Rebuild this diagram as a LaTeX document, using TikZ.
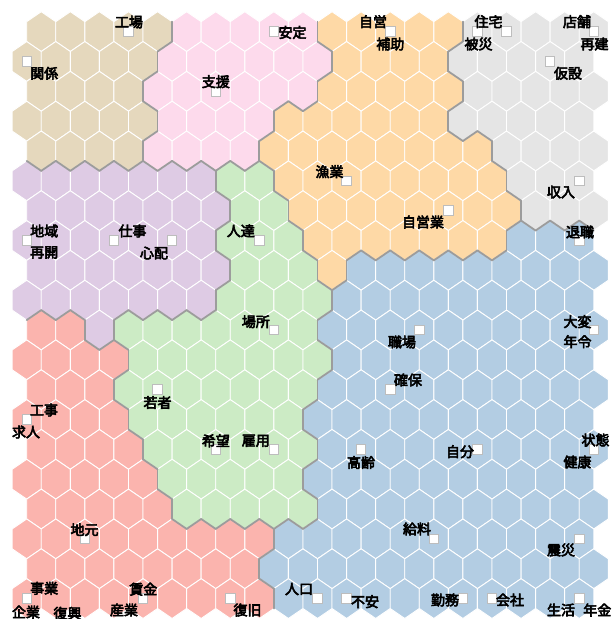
\documentclass[tikz,border=0pt]{standalone}
\usepackage{fontspec}
\newfontfamily\jpfont[FakeBold=4]{Noto Sans CJK JP}
\definecolor{cT}{HTML}{E5D8BD}
\definecolor{cP}{HTML}{FDDAEC}
\definecolor{cO}{HTML}{FED9A6}
\definecolor{cG}{HTML}{E5E5E5}
\definecolor{cU}{HTML}{DECBE4}
\definecolor{cN}{HTML}{CCEBC5}
\definecolor{cB}{HTML}{B3CDE3}
\definecolor{cR}{HTML}{FBB4AE}
\definecolor{bordergray}{HTML}{9C9C9C}
\definecolor{markgray}{HTML}{BDBDBD}
\newcommand\defhexrow[2]{\expandafter\def\csname hexrow#1\endcsname{#2}}
\defhexrow{0}{T,T,T,T,T,P,P,P,P,P,O,O,O,O,O,G,G,G,G,G}
\defhexrow{1}{T,T,T,T,T,P,P,P,P,P,P,O,O,O,O,G,G,G,G,G}
\defhexrow{2}{T,T,T,T,P,P,P,P,P,P,O,O,O,O,O,G,G,G,G,G}
\defhexrow{3}{T,T,T,T,T,P,P,P,P,O,O,O,O,O,O,G,G,G,G,G}
\defhexrow{4}{T,T,T,T,P,P,P,P,O,O,O,O,O,O,O,O,G,G,G,G}
\defhexrow{5}{U,U,U,U,U,U,U,N,N,O,O,O,O,O,O,O,O,G,G,G}
\defhexrow{6}{U,U,U,U,U,U,U,N,N,O,O,O,O,O,O,O,O,G,G,G}
\defhexrow{7}{U,U,U,U,U,U,U,N,N,N,O,O,O,O,O,O,O,B,B,B}
\defhexrow{8}{U,U,U,U,U,U,U,N,N,N,O,B,B,B,B,B,B,B,B,B}
\defhexrow{9}{U,U,U,U,U,U,U,N,N,N,N,B,B,B,B,B,B,B,B,B}
\defhexrow{10}{R,R,U,N,N,N,N,N,N,N,B,B,B,B,B,B,B,B,B,B}
\defhexrow{11}{R,R,R,R,N,N,N,N,N,N,N,B,B,B,B,B,B,B,B,B}
\defhexrow{12}{R,R,R,N,N,N,N,N,N,N,B,B,B,B,B,B,B,B,B,B}
\defhexrow{13}{R,R,R,R,N,N,N,N,N,N,B,B,B,B,B,B,B,B,B,B}
\defhexrow{14}{R,R,R,R,N,N,N,N,N,N,B,B,B,B,B,B,B,B,B,B}
\defhexrow{15}{R,R,R,R,R,N,N,N,N,N,B,B,B,B,B,B,B,B,B,B}
\defhexrow{16}{R,R,R,R,R,N,N,N,N,N,B,B,B,B,B,B,B,B,B,B}
\defhexrow{17}{R,R,R,R,R,R,R,R,R,B,B,B,B,B,B,B,B,B,B,B}
\defhexrow{18}{R,R,R,R,R,R,R,R,B,B,B,B,B,B,B,B,B,B,B,B}
\defhexrow{19}{R,R,R,R,R,R,R,R,R,B,B,B,B,B,B,B,B,B,B,B}
\tikzset{
  hexcell/.style={draw=white, line width=0.9pt, line join=miter},
  clborder/.style={draw=bordergray, line width=1.8pt, line cap=round},
  mk/.style={rectangle, draw=markgray, fill=white, line width=0.9pt, minimum size=9.5pt, inner sep=0pt},
  lbl/.style={font={\jpfont\fontsize{14}{16}\selectfont}, inner sep=0pt, text=black}
}
\begin{document}
\begin{tikzpicture}[x=1pt,y=-1pt]
\useasboundingbox (0,0) rectangle (611,619);
\fill[white] (0,0) rectangle (611,619);
\def\hw{14.54}\def\hs{19.89}\def\hh{9.945}
% hexagon cells
\foreach \r in {0,...,19}{
  \edef\hexcols{\csname hexrow\r\endcsname}
  \foreach \cl [count=\ci from 0] in \hexcols {
    \pgfmathsetmacro\cx{26.7+29.08*\ci+(1-mod(\r,2))*14.54}
    \pgfmathsetmacro\cy{31.6+29.84*\r}
    \filldraw[hexcell, fill=c\cl] (\cx,\cy-\hs) -- (\cx+\hw,\cy-\hh) -- (\cx+\hw,\cy+\hh) -- (\cx,\cy+\hs) -- (\cx-\hw,\cy+\hh) -- (\cx-\hw,\cy-\hh) -- cycle;
    \expandafter\xdef\csname hexcl-\r-\ci\endcsname{\cl}
  }
}
% cluster borders
\foreach \r in {0,...,19}{
  \foreach \ci in {0,...,19}{
    \pgfmathsetmacro\cx{26.7+29.08*\ci+(1-mod(\r,2))*14.54}
    \pgfmathsetmacro\cy{31.6+29.84*\r}
    \expandafter\let\expandafter\hexA\csname hexcl-\r-\ci\endcsname
    \ifnum\ci<19
      \pgfmathtruncatemacro\hexN{\ci+1}
      \expandafter\let\expandafter\hexB\csname hexcl-\r-\hexN\endcsname
      \ifx\hexA\hexB\else
        \draw[clborder] (\cx+\hw,\cy-\hh) -- (\cx+\hw,\cy+\hh);
      \fi
    \fi
    \ifnum\r<19
      \pgfmathtruncatemacro\hexRn{\r+1}
      \pgfmathtruncatemacro\hexLL{\ci-1+(1-mod(\r,2))}
      \pgfmathtruncatemacro\hexLR{\ci+(1-mod(\r,2))}
      \ifnum\hexLL>-1
        \expandafter\let\expandafter\hexB\csname hexcl-\hexRn-\hexLL\endcsname
        \ifx\hexA\hexB\else
          \draw[clborder] (\cx-\hw,\cy+\hh) -- (\cx,\cy+\hs);
        \fi
      \fi
      \ifnum\hexLR<20
        \expandafter\let\expandafter\hexB\csname hexcl-\hexRn-\hexLR\endcsname
        \ifx\hexA\hexB\else
          \draw[clborder] (\cx,\cy+\hs) -- (\cx+\hw,\cy+\hh);
        \fi
      \fi
    \fi
  }
}
% markers
\node[mk] (m-0-3) at (128.48,31.6) {};
\node[mk] (m-1-0) at (26.7,61.44) {};
\node[mk] (m-0-8) at (273.88,31.6) {};
\node[mk] (m-0-12) at (390.2,31.6) {};
\node[mk] (m-0-15) at (477.44,31.6) {};
\node[mk] (m-0-16) at (506.52,31.6) {};
\node[mk] (m-0-19) at (593.76,31.6) {};
\node[mk] (m-1-18) at (550.14,61.44) {};
\node[mk] (m-2-6) at (215.72,91.28) {};
\node[mk] (m-5-11) at (346.58,180.8) {};
\node[mk] (m-5-19) at (579.22,180.8) {};
\node[mk] (m-6-14) at (448.36,210.64) {};
\node[mk] (m-7-0) at (26.7,240.48) {};
\node[mk] (m-7-3) at (113.94,240.48) {};
\node[mk] (m-7-5) at (172.1,240.48) {};
\node[mk] (m-7-8) at (259.34,240.48) {};
\node[mk] (m-7-19) at (579.22,240.48) {};
\node[mk] (m-10-8) at (273.88,330) {};
\node[mk] (m-10-13) at (419.28,330) {};
\node[mk] (m-10-19) at (593.76,330) {};
\node[mk] (m-12-4) at (157.56,389.68) {};
\node[mk] (m-12-12) at (390.2,389.68) {};
\node[mk] (m-13-0) at (26.7,419.52) {};
\node[mk] (m-14-6) at (215.72,449.36) {};
\node[mk] (m-14-8) at (273.88,449.36) {};
\node[mk] (m-14-11) at (361.12,449.36) {};
\node[mk] (m-14-15) at (477.44,449.36) {};
\node[mk] (m-14-19) at (593.76,449.36) {};
\node[mk] (m-17-2) at (84.86,538.88) {};
\node[mk] (m-17-14) at (433.82,538.88) {};
\node[mk] (m-17-19) at (579.22,538.88) {};
\node[mk] (m-19-0) at (26.7,598.56) {};
\node[mk] (m-19-4) at (143.02,598.56) {};
\node[mk] (m-19-7) at (230.26,598.56) {};
\node[mk] (m-19-10) at (317.5,598.56) {};
\node[mk] (m-19-11) at (346.58,598.56) {};
\node[mk] (m-19-15) at (462.9,598.56) {};
\node[mk] (m-19-16) at (491.98,598.56) {};
\node[mk] (m-19-19) at (579.22,598.56) {};
% labels
\node[lbl] (l-koujou) at (129,22) {工場};
\node[lbl] (l-kankei) at (44.2,73.3) {関係};
\node[lbl] (l-antei) at (292.5,32.5) {安定};
\node[lbl] (l-jiei) at (373,21.7) {自営};
\node[lbl] (l-hojo) at (390.3,44) {補助};
\node[lbl] (l-shien) at (215.8,81.7) {支援};
\node[lbl] (l-gyogyou) at (329.5,171.7) {漁業};
\node[lbl] (l-juutaku) at (488.5,21.7) {住宅};
\node[lbl] (l-hisai) at (478.5,44) {被災};
\node[lbl] (l-tenpo) at (577,21.7) {店舗};
\node[lbl] (l-saiken) at (594.5,44) {再建};
\node[lbl] (l-kasetsu) at (568,73.3) {仮設};
\node[lbl] (l-shuunyuu) at (561,192) {収入};
\node[lbl] (l-chiiki) at (44.2,231) {地域};
\node[lbl] (l-saikai) at (44.2,252.5) {再開};
\node[lbl] (l-shigoto) at (132.5,231) {仕事};
\node[lbl] (l-shinpai) at (154,253) {心配};
\node[lbl] (l-hitotachi) at (240.8,230.8) {人達};
\node[lbl] (l-jieigyou) at (423,222) {自営業};
\node[lbl] (l-taishoku) at (580,232) {退職};
\node[lbl] (l-basho) at (255.8,321.7) {場所};
\node[lbl] (l-taihen) at (577.5,321.7) {大変};
\node[lbl] (l-nenrei) at (577.5,341.7) {年令};
\node[lbl] (l-shokuba) at (402,342) {職場};
\node[lbl] (l-kakuho) at (408,380) {確保};
\node[lbl] (l-wakamono) at (157.5,402.5) {若者};
\node[lbl] (l-kouji) at (44,410) {工事};
\node[lbl] (l-kyuujin) at (26,432) {求人};
\node[lbl] (l-kibou) at (215.8,440.8) {希望};
\node[lbl] (l-koyou) at (255.8,440.8) {雇用};
\node[lbl] (l-koureii) at (361,462.5) {高齢};
\node[lbl] (l-jibun) at (460,451.7) {自分};
\node[lbl] (l-joutai) at (595.5,440) {状態};
\node[lbl] (l-kenkou) at (577.5,462) {健康};
\node[lbl] (l-jimoto) at (84.5,529.7) {地元};
\node[lbl] (l-kyuuryou) at (417,529) {給料};
\node[lbl] (l-shinsai) at (561,550) {震災};
\node[lbl] (l-jigyou) at (44.2,588.3) {事業};
\node[lbl] (l-kigyou) at (26,612) {企業};
\node[lbl] (l-fukkou) at (67.5,613.3) {復興};
\node[lbl] (l-chingin) at (143.3,589.2) {賃金};
\node[lbl] (l-sangyou) at (124,610) {産業};
\node[lbl] (l-fukkyuu) at (247.5,610) {復旧};
\node[lbl] (l-jinkou) at (299,589) {人口};
\node[lbl] (l-fuan) at (365,601.7) {不安};
\node[lbl] (l-kinmu) at (445,600) {勤務};
\node[lbl] (l-kaisha) at (510,600) {会社};
\node[lbl] (l-seikatsu) at (561,610) {生活};
\node[lbl] (l-nenkin) at (597.3,610) {年金};
\end{tikzpicture}
\end{document}
